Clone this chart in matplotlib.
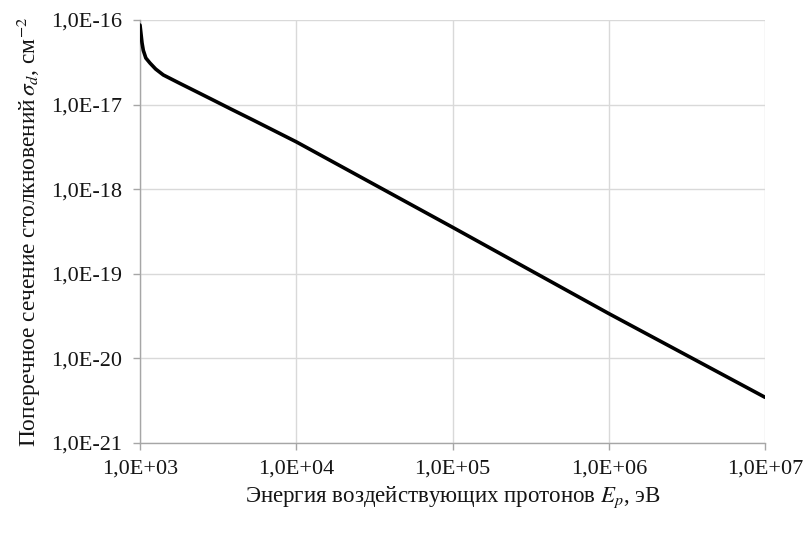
import matplotlib
matplotlib.use("Agg")
import matplotlib.pyplot as plt
from matplotlib.ticker import FixedLocator, FuncFormatter, NullLocator
import numpy as np

# Collision cross-section vs. incident proton energy
energy_ev = [1.0e3, 1.01e3, 1.03e3, 1.05e3, 1.09e3, 1.16e3, 1.26e3, 1.41e3,
             1.8e3, 2.3e3, 3.0e3, 3.8e3, 5.3e3, 1.0e4, 1.0e5, 1.0e6, 1.0e7]
sigma_cm2 = [8.71e-17, 7.41e-17, 5.37e-17, 4.37e-17, 3.55e-17, 3.09e-17,
             2.63e-17, 2.24e-17, 1.78e-17, 1.42e-17, 1.11e-17, 8.9e-18,
             6.56e-18, 3.63e-18, 3.55e-19, 3.39e-20, 3.47e-21]

x_ticks = [1e3, 1e4, 1e5, 1e6, 1e7]
y_ticks = [1e-21, 1e-20, 1e-19, 1e-18, 1e-17, 1e-16]

plt.rcParams["font.family"] = ["Liberation Serif", "DejaVu Serif"]
plt.rcParams["mathtext.fontset"] = "stix"

text_color = "#151515"

fig = plt.figure(figsize=(8.05, 5.33), dpi=100)
ax = fig.add_axes([140 / 805, 1 - 443 / 533, 625 / 805, 423 / 533])

ax.plot(energy_ev, sigma_cm2, color="black", lw=2.6, solid_capstyle="round",
        solid_joinstyle="round", zorder=3)

ax.set_xscale("log")
ax.set_yscale("log")
ax.set_xlim(1e3, 1e7)
ax.set_ylim(1e-21, 1e-16)

ax.xaxis.set_major_locator(FixedLocator(x_ticks))
ax.yaxis.set_major_locator(FixedLocator(y_ticks))
ax.xaxis.set_minor_locator(NullLocator())
ax.yaxis.set_minor_locator(NullLocator())


def sci_comma(v, pos):
    e = int(round(np.log10(v)))
    return f"1,0E{e:+03d}"


ax.xaxis.set_major_formatter(FuncFormatter(sci_comma))
ax.yaxis.set_major_formatter(FuncFormatter(sci_comma))

ax.grid(True, which="major", color="#d9d9d9", lw=1.0, zorder=0)
for s in ("top", "right"):
    ax.spines[s].set_visible(False)
for s in ("left", "bottom"):
    ax.spines[s].set_color("#a6a6a6")
    ax.spines[s].set_linewidth(1.0)

ax.tick_params(axis="both", which="major", direction="out", length=5,
               width=1.0, color="#a6a6a6", labelsize=16, labelcolor=text_color)
ax.tick_params(axis="x", pad=7)
ax.tick_params(axis="y", pad=8)

ax.set_xlabel(r"Энергия воздействующих протонов $E_p$, эВ", fontsize=16.5,
              color=text_color, labelpad=4)
ax.set_ylabel(r"Поперечное сечение столкновений$\,\sigma_d$, см$^{-2}$",
              fontsize=16.8, color=text_color, labelpad=6)

fig.savefig("out.png", dpi=100)
